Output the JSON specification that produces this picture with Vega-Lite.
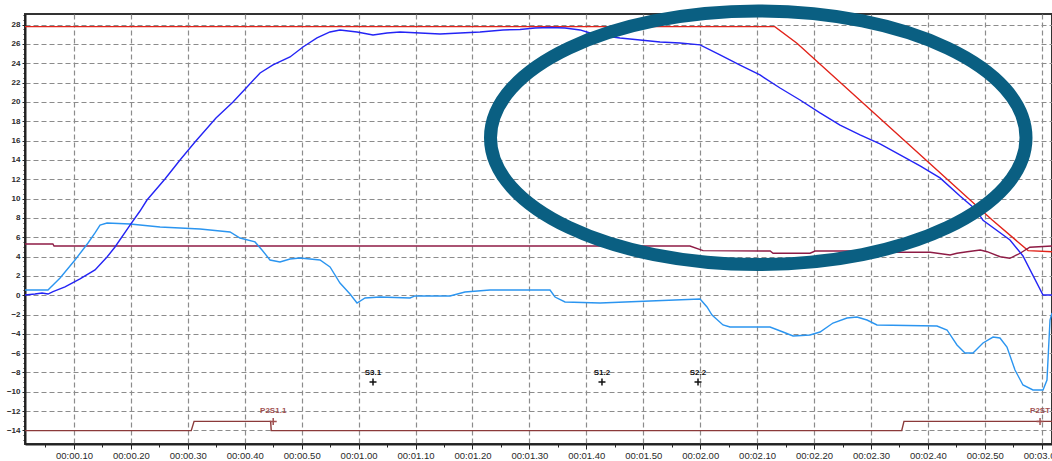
{
  "$schema": "https://vega.github.io/schema/vega-lite/v6.json",
  "width": 1027,
  "height": 430,
  "autosize": {"type": "none"},
  "padding": {"left": 25, "top": 14, "right": 0, "bottom": 17},
  "background": "white",
  "config": {
    "view": {"stroke": "#333", "strokeWidth": 2},
    "axis": {
      "grid": true, "gridColor": "#8c8c8c", "gridDash": [5, 3], "gridWidth": 1.2,
      "domainColor": "#222", "domainWidth": 2, "tickColor": "#222", "tickSize": 3,
      "labelFont": "Liberation Sans", "labelColor": "#2a2a2a", "title": null,
      "labelOverlap": false, "labelSeparation": 0
    }
  },
  "resolve": {"axis": {"x": "independent", "y": "independent"}},
  "datasets": {
    "tr": [
      {"s":"r","t":0.14,"v":27.79},{"s":"r","t":13.31,"v":27.79},{"s":"r","t":13.70,"v":26.07},{"s":"r","t":17.13,"v":7.78},{"s":"r","t":17.76,"v":4.61},{"s":"r","t":18.18,"v":4.50},
      {"s":"m","t":0.14,"v":5.30},{"s":"m","t":0.63,"v":5.30},{"s":"m","t":0.65,"v":5.09},{"s":"m","t":11.82,"v":5.09},{"s":"m","t":12.05,"v":4.61},{"s":"m","t":13.23,"v":4.57},{"s":"m","t":13.28,"v":4.34},{"s":"m","t":13.93,"v":4.34},{"s":"m","t":14.02,"v":4.57},{"s":"m","t":14.68,"v":4.57},{"s":"m","t":15.11,"v":4.44},{"s":"m","t":16.04,"v":4.44},{"s":"m","t":16.39,"v":4.16},{"s":"m","t":16.51,"v":4.34},{"s":"m","t":16.69,"v":4.50},{"s":"m","t":16.92,"v":4.68},{"s":"m","t":17.04,"v":4.50},{"s":"m","t":17.27,"v":3.98},{"s":"m","t":17.44,"v":3.82},{"s":"m","t":17.62,"v":4.34},{"s":"m","t":17.79,"v":4.96},{"s":"m","t":18.18,"v":5.09},
      {"s":"p","t":0.14,"v":-14.02},{"s":"p","t":3.06,"v":-14.02},{"s":"p","t":3.11,"v":-13.06},{"s":"p","t":4.455,"v":-13.06},{"s":"p","t":4.465,"v":-14.02},{"s":"p","t":15.54,"v":-14.02},{"s":"p","t":15.58,"v":-13.06},{"s":"p","t":18.18,"v":-13.06},
      {"s":"c","t":0.14,"v":0.54},{"s":"c","t":0.544,"v":0.54},{"s":"c","t":0.579,"v":0.75},{"s":"c","t":0.756,"v":1.78},{"s":"c","t":1.018,"v":3.64},{"s":"c","t":1.247,"v":5.40},{"s":"c","t":1.370,"v":6.44},{"s":"c","t":1.458,"v":7.26},{"s":"c","t":1.581,"v":7.47},{"s":"c","t":1.985,"v":7.37},{"s":"c","t":2.512,"v":7.06},{"s":"c","t":3.214,"v":6.85},{"s":"c","t":3.741,"v":6.54},{"s":"c","t":3.917,"v":5.92},{"s":"c","t":4.180,"v":5.51},{"s":"c","t":4.303,"v":4.68},{"s":"c","t":4.444,"v":3.64},{"s":"c","t":4.619,"v":3.44},{"s":"c","t":4.795,"v":3.75},{"s":"c","t":4.971,"v":3.85},{"s":"c","t":5.322,"v":3.64},{"s":"c","t":5.498,"v":2.92},{"s":"c","t":5.673,"v":1.26},{"s":"c","t":5.849,"v":0.12},{"s":"c","t":5.972,"v":-0.81},{"s":"c","t":6.113,"v":-0.29},{"s":"c","t":6.376,"v":-0.19},{"s":"c","t":6.903,"v":-0.29},{"s":"c","t":6.991,"v":-0.08},{"s":"c","t":7.606,"v":-0.08},{"s":"c","t":7.868,"v":0.33},{"s":"c","t":8.308,"v":0.54},{"s":"c","t":9.362,"v":0.54},{"s":"c","t":9.450,"v":-0.19},{"s":"c","t":9.626,"v":-0.70},{"s":"c","t":10.241,"v":-0.81},{"s":"c","t":11.119,"v":-0.60},{"s":"c","t":11.998,"v":-0.39},{"s":"c","t":12.12,"v":-1.22},{"s":"c","t":12.208,"v":-2.05},{"s":"c","t":12.401,"v":-3.08},{"s":"c","t":12.524,"v":-3.29},{"s":"c","t":13.227,"v":-3.29},{"s":"c","t":13.455,"v":-3.81},{"s":"c","t":13.631,"v":-4.22},{"s":"c","t":13.929,"v":-4.12},{"s":"c","t":14.105,"v":-3.81},{"s":"c","t":14.333,"v":-2.88},{"s":"c","t":14.579,"v":-2.36},{"s":"c","t":14.754,"v":-2.26},{"s":"c","t":14.930,"v":-2.57},{"s":"c","t":15.106,"v":-3.08},{"s":"c","t":16.160,"v":-3.19},{"s":"c","t":16.336,"v":-3.60},{"s":"c","t":16.511,"v":-5.15},{"s":"c","t":16.652,"v":-5.98},{"s":"c","t":16.792,"v":-5.98},{"s":"c","t":16.968,"v":-4.95},{"s":"c","t":17.144,"v":-4.33},{"s":"c","t":17.266,"v":-4.43},{"s":"c","t":17.389,"v":-5.36},{"s":"c","t":17.530,"v":-7.74},{"s":"c","t":17.670,"v":-9.29},{"s":"c","t":17.846,"v":-9.81},{"s":"c","t":18.022,"v":-9.81},{"s":"c","t":18.092,"v":-8.78},{"s":"c","t":18.145,"v":-2.57},{"s":"c","t":18.18,"v":-1.84},
      {"s":"b","t":0.14,"v":0.02},{"s":"b","t":0.316,"v":0.12},{"s":"b","t":0.439,"v":0.23},{"s":"b","t":0.544,"v":0.12},{"s":"b","t":0.632,"v":0.36},{"s":"b","t":0.843,"v":0.85},{"s":"b","t":1.106,"v":1.68},{"s":"b","t":1.370,"v":2.61},{"s":"b","t":1.581,"v":3.95},{"s":"b","t":1.721,"v":4.99},{"s":"b","t":1.985,"v":7.26},{"s":"b","t":2.160,"v":8.71},{"s":"b","t":2.283,"v":9.85},{"s":"b","t":2.599,"v":12.02},{"s":"b","t":2.863,"v":13.99},{"s":"b","t":3.126,"v":15.85},{"s":"b","t":3.495,"v":18.34},{"s":"b","t":3.794,"v":20.0},{"s":"b","t":4.040,"v":21.55},{"s":"b","t":4.269,"v":23.0},{"s":"b","t":4.496,"v":23.83},{"s":"b","t":4.795,"v":24.65},{"s":"b","t":5.023,"v":25.69},{"s":"b","t":5.269,"v":26.62},{"s":"b","t":5.497,"v":27.24},{"s":"b","t":5.673,"v":27.45},{"s":"b","t":5.972,"v":27.24},{"s":"b","t":6.253,"v":26.93},{"s":"b","t":6.499,"v":27.14},{"s":"b","t":6.727,"v":27.24},{"s":"b","t":7.079,"v":27.13},{"s":"b","t":7.430,"v":27.03},{"s":"b","t":7.782,"v":27.13},{"s":"b","t":8.133,"v":27.24},{"s":"b","t":8.537,"v":27.45},{"s":"b","t":8.835,"v":27.50},{"s":"b","t":9.099,"v":27.65},{"s":"b","t":9.362,"v":27.70},{"s":"b","t":9.626,"v":27.65},{"s":"b","t":9.890,"v":27.45},{"s":"b","t":10.066,"v":27.13},{"s":"b","t":10.33,"v":26.82},{"s":"b","t":10.592,"v":26.62},{"s":"b","t":10.943,"v":26.41},{"s":"b","t":11.295,"v":26.20},{"s":"b","t":11.646,"v":26.10},{"s":"b","t":11.998,"v":25.90},{"s":"b","t":12.349,"v":24.86},{"s":"b","t":12.70,"v":23.82},{"s":"b","t":13.05,"v":22.79},{"s":"b","t":13.403,"v":21.44},{"s":"b","t":13.754,"v":20.20},{"s":"b","t":14.105,"v":18.86},{"s":"b","t":14.457,"v":17.61},{"s":"b","t":14.808,"v":16.58},{"s":"b","t":15.159,"v":15.65},{"s":"b","t":15.511,"v":14.52},{"s":"b","t":15.862,"v":13.38},{"s":"b","t":16.213,"v":12.14},{"s":"b","t":16.564,"v":10.27},{"s":"b","t":16.83,"v":8.93},{"s":"b","t":16.968,"v":7.76},{"s":"b","t":17.442,"v":5.71},{"s":"b","t":17.670,"v":4.06},{"s":"b","t":18.022,"v":0.02},{"s":"b","t":18.18,"v":0.02}
    ],
    "marks": [
      {"t":6.253,"v":-8.05,"p":-8.98,"label":"S3.1","c":"#111"},
      {"t":10.275,"v":-8.05,"p":-8.98,"label":"S1.2","c":"#111"},
      {"t":11.962,"v":-8.05,"p":-8.98,"label":"S2.2","c":"#111"},
      {"t":4.50,"v":-12.0,"p":-13.06,"label":"P2S1.1","c":"#a05050"},
      {"t":17.97,"v":-12.0,"p":-13.06,"label":"P2ST","c":"#a05050"}
    ],
    "ring": [{"t":13.02,"v":16.29}]
  },
  "layer": [
    {
      "data": {"name": "tr"},
      "mark": {"type": "line", "strokeWidth": 1.4, "clip": true},
      "encoding": {
        "x": {"field": "t", "type": "quantitative",
          "scale": {"domain": [0.14, 18.18], "nice": false, "zero": false},
          "axis": {"orient": "bottom", "values": [1,2,3,4,5,6,7,8,9,10,11,12,13,14,15,16,17,18], "tickCount": 40,
            "labelExpr": "['','00:00.10','00:00.20','00:00.30','00:00.40','00:00.50','00:01.00','00:01.10','00:01.20','00:01.30','00:01.40','00:01.50','00:02.00','00:02.10','00:02.20','00:02.30','00:02.40','00:02.50','00:03.00'][datum.value]",
            "labelFontSize": 9.5, "tickSize": 5, "labelPadding": 1, "labelFlush": false, "labelOverlap": false}},
        "y": {"field": "v", "type": "quantitative",
          "scale": {"domain": [-15.4, 29.1], "nice": false, "zero": false},
          "axis": {"orient": "left", "values": [-14,-12,-10,-8,-6,-4,-2,0,2,4,6,8,10,12,14,16,18,20,22,24,26,28], "tickCount": 40,
            "labelFontSize": 8, "labelFontWeight": "bold", "labelPadding": 2, "labelFlush": false, "labelOverlap": false}},
        "color": {"field": "s", "type": "nominal", "legend": null,
          "scale": {"domain": ["r","m","p","c","b"], "range": ["#e2231a","#8e1b45","#8b3a3a","#2b95f0","#2424f5"]}}
      }
    },
    {
      "data": {"name": "tr"},
      "mark": {"type": "line", "opacity": 0},
      "encoding": {
        "x": {"field": "t", "type": "quantitative",
          "axis": {"orient": "bottom", "values": [0.5,1.5,2.5,3.5,4.5,5.5,6.5,7.5,8.5,9.5,10.5,11.5,12.5,13.5,14.5,15.5,16.5,17.5], "tickCount": 100,
            "labels": false, "grid": false, "domain": false, "tickSize": 3, "tickWidth": 1}},
        "y": {"field": "v", "type": "quantitative",
          "axis": {"orient": "left", "values": [-15,-14.5,-13.5,-13,-12.5,-11.5,-11,-10.5,-9.5,-9,-8.5,-7.5,-7,-6.5,-5.5,-5,-4.5,-3.5,-3,-2.5,-1.5,-1,-0.5,0.5,1,1.5,2.5,3,3.5,4.5,5,5.5,6.5,7,7.5,8.5,9,9.5,10.5,11,11.5,12.5,13,13.5,14.5,15,15.5,16.5,17,17.5,18.5,19,19.5,20.5,21,21.5,22.5,23,23.5,24.5,25,25.5,26.5,27,27.5,28.5,29], "tickCount": 200,
            "labels": false, "grid": false, "domain": false, "tickSize": 2, "tickWidth": 1}},
        "detail": {"field": "s"}
      }
    },
    {
      "data": {"name": "marks"},
      "mark": {"type": "text", "fontSize": 8, "fontWeight": "bold", "font": "Liberation Sans"},
      "encoding": {
        "x": {"field": "t", "type": "quantitative", "axis": null},
        "y": {"field": "v", "type": "quantitative", "axis": null},
        "text": {"field": "label"},
        "color": {"field": "c", "type": "nominal", "scale": null}
      }
    },
    {
      "data": {"name": "marks"},
      "mark": {"type": "point", "shape": "M-1,0H1M0,-1V1", "size": 49, "strokeWidth": 1.5, "filled": false, "opacity": 1},
      "encoding": {
        "x": {"field": "t", "type": "quantitative", "axis": null},
        "y": {"field": "p", "type": "quantitative", "axis": null},
        "stroke": {"field": "c", "type": "nominal", "scale": null}
      }
    },
    {
      "data": {"name": "ring"},
      "mark": {"type": "point", "shape": "M-1,0C-1,-0.2615,-0.5523,-0.4734,0,-0.4734C0.5523,-0.4734,1,-0.2615,1,0C1,0.2615,0.5523,0.4734,0,0.4734C-0.5523,0.4734,-1,0.2615,-1,0Z",
        "size": 286760, "filled": false, "stroke": "#0a5f82", "strokeWidth": 13, "opacity": 1},
      "encoding": {
        "x": {"field": "t", "type": "quantitative", "axis": null},
        "y": {"field": "v", "type": "quantitative", "axis": null}
      }
    }
  ]
}
